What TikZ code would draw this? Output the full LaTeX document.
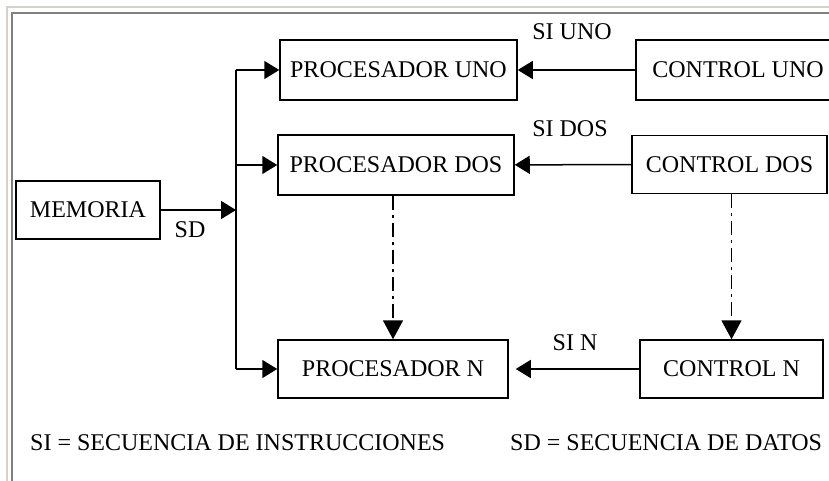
\documentclass[tikz,border=0pt]{standalone}
\usepackage{fontspec}
\setmainfont{Liberation Serif}
\usetikzlibrary{calc}
\usetikzlibrary{arrows.meta}

\definecolor{frameout}{RGB}{214,210,202}
\definecolor{framein}{RGB}{128,128,128}

\tikzset{
  blk/.style={draw, line width=1.5pt, minimum height=58pt},
  tip/.style={-{Triangle[length=15pt,width=18pt]}, line width=1.5pt},
  dtip/.style={-{Triangle[length=19pt,width=20pt]}, line width=1.8pt,
    dash pattern=on 14pt off 5pt on 3pt off 5pt},
}

\begin{document}
\begin{tikzpicture}[x=1pt,y=-1pt,inner sep=0pt,font=\fontsize{24}{28}\selectfont]
\useasboundingbox (0,0) rectangle (829,481);
\fill[white] (0,0) rectangle (829,481);
\draw[frameout, line width=2pt] (7,481) -- (7,7) -- (829,7);
\draw[framein, line width=2pt] (12,481) -- (12,13) -- (829,13);

\node[blk, minimum width=144pt] (mem) at (88,210) {MEMORIA};
\node[blk, minimum width=237pt, minimum height=60pt] (pu) at (398.5,70) {PROCESADOR UNO};
\node[blk, minimum width=236pt, minimum height=60pt] (pd) at (396,165) {PROCESADOR DOS};
\node[blk, minimum width=230pt] (pn) at (393,369) {PROCESADOR N};
\node[blk, minimum width=204pt, minimum height=60pt] (cu) at (738,70) {CONTROL UNO};
\node[blk, minimum width=195pt] (cd) at (729.5,164.5) {CONTROL DOS};
\node[blk, minimum width=183pt] (cn) at (731.5,369) {CONTROL N};

\coordinate (b1) at (236,70);
\coordinate (b0) at (236,210);
\coordinate (b2) at (236,165);
\coordinate (b3) at (236,369);

\draw[tip] (mem) -- (b0);
\draw[line width=1.5pt] (b1) -- (b3);
\draw[tip] (b1) -- (pu);
\draw[tip] (b2) -- (pd);
\draw[tip] (b3) -- (pn);

\draw[tip] (cu) -- (pu);
\draw[tip] (cd) -- (pd);
\draw[tip, shorten >=7pt] (cn) -- (pn);

\draw[dtip] (pn.north |- pd.south) -- (pn.north);
\draw[dtip] (cn.north |- cd.south) -- (cn.north);

\node (sd) at (190,230) {SD};
\node (siu) at (572,32) {SI UNO};
\node (sid) at (570,129) {SI DOS};
\node (sin) at (575,343) {SI N};

\node[anchor=west] (legi) at (30,443) {SI = SECUENCIA DE INSTRUCCIONES};
\node[anchor=west] (legd) at (510,443) {SD = SECUENCIA DE DATOS};
\end{tikzpicture}
\end{document}
